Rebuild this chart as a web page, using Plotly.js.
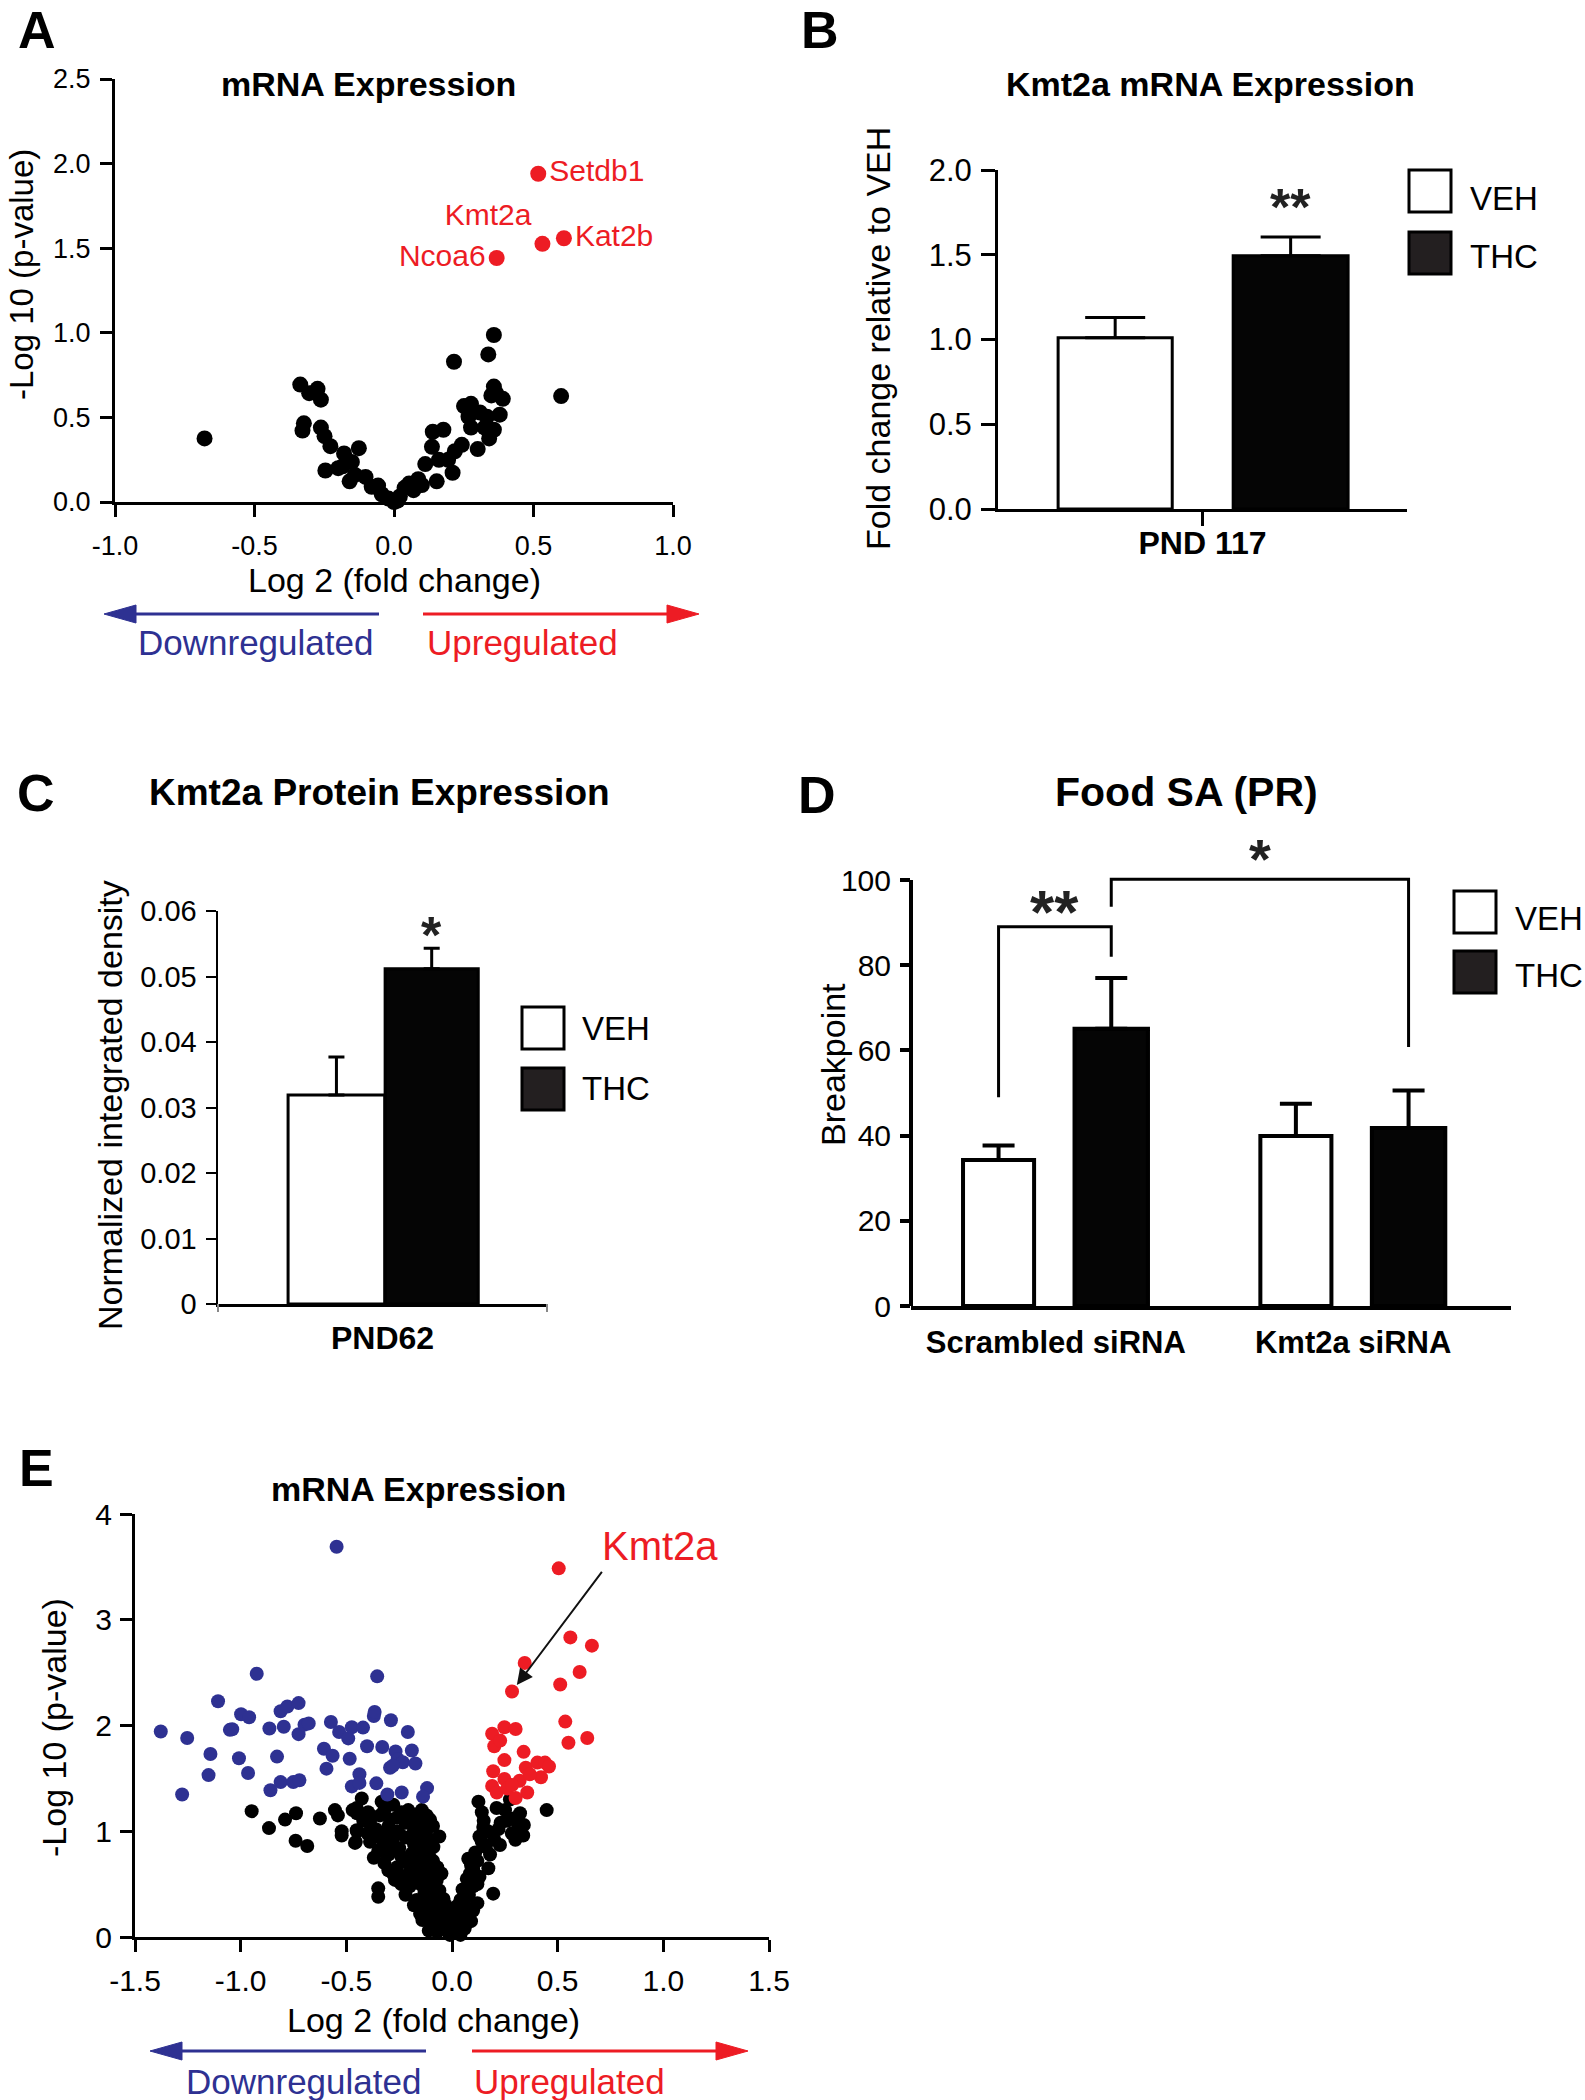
<!DOCTYPE html>
<html>
<head>
<meta charset="utf-8">
<script src="https://cdn.plot.ly/plotly-3.0.1.min.js"></script>
<style>
  body { margin: 0; background: #fff; }
  #fig { width: 1585px; height: 2100px; }
</style>
</head>
<body>
<div id="fig"></div>
<script>
// ---------- data ----------
// A: volcano plot (mRNA expression)
const aBlackX = [-0.679,-0.336,-0.274,-0.304,-0.262,-0.323,-0.328,-0.262,-0.249,-0.228,-0.246,-0.179,-0.184,-0.151,-0.126,-0.159,-0.102,-0.2,-0.14,-0.057,-0.044,-0.02,0.0,0.013,0.021,0.038,0.054,0.087,0.07,0.153,0.139,0.177,0.136,0.112,0.161,0.21,0.194,0.218,0.243,0.215,0.251,0.276,0.267,0.276,0.30,0.308,0.325,0.341,0.333,0.338,0.358,0.358,0.366,0.349,0.39,0.379,0.358,0.599,-0.08,0.1];
const aBlackY = [0.376,0.694,0.669,0.643,0.605,0.465,0.422,0.44,0.389,0.33,0.186,0.287,0.211,0.237,0.318,0.122,0.148,0.2,0.16,0.097,0.046,0.02,0.0,0.008,0.033,0.084,0.109,0.135,0.07,0.122,0.415,0.427,0.326,0.224,0.249,0.173,0.249,0.3,0.338,0.829,0.567,0.58,0.504,0.44,0.313,0.529,0.44,0.376,0.504,0.872,0.987,0.682,0.643,0.63,0.61,0.516,0.427,0.626,0.09,0.1];
const aGenes = ["Setdb1", "Kmt2a", "Kat2b", "Ncoa6"];
const aGeneX = [0.517, 0.532, 0.609, 0.368];
const aGeneY = [1.94, 1.526, 1.559, 1.442];
const aXTicks = [-1, -0.5, 0, 0.5, 1];
const aXLabels = ["-1.0", "-0.5", "0.0", "0.5", "1.0"];
const aYTicks = [0, 0.5, 1, 1.5, 2, 2.5];
const aYLabels = ["0.0", "0.5", "1.0", "1.5", "2.0", "2.5"];

// B: Kmt2a mRNA (fold change)
const bCats = ["PND 117"];
const bVeh = [1.01], bVehErr = [0.12];
const bThc = [1.494], bThcErr = [0.11];
const bYTicks = [0, 0.5, 1, 1.5, 2];
const bYLabels = ["0.0", "0.5", "1.0", "1.5", "2.0"];

// C: Kmt2a protein
const cCats = ["PND62"];
const cVeh = [0.0319], cVehErr = [0.0058];
const cThc = [0.0512], cThcErr = [0.0031];
const cYTicks = [0, 0.01, 0.02, 0.03, 0.04, 0.05, 0.06];
const cYLabels = ["0", "0.01", "0.02", "0.03", "0.04", "0.05", "0.06"];

// D: Food SA (PR) breakpoint
const dCats = ["Scrambled siRNA", "Kmt2a siRNA"];
const dVeh = [34.3, 39.9], dVehErr = [3.4, 7.6];
const dThc = [65.1, 41.8], dThcErr = [11.9, 8.8];
const dYTicks = [0, 20, 40, 60, 80, 100];

// E: volcano plot (mRNA expression)
const eBlueX = [-1.378,-1.253,-1.277,-1.143,-1.152,-1.107,-1.051,-1.040,-1.008,-0.998,-0.960,-0.965,-0.924,-0.864,-0.859,-0.828,-0.811,-0.811,-0.779,-0.796,-0.726,-0.726,-0.751,-0.722,-0.698,-0.678,-0.573,-0.606,-0.594,-0.565,-0.546,-0.534,-0.491,-0.474,-0.484,-0.474,-0.438,-0.438,-0.421,-0.402,-0.370,-0.366,-0.358,-0.354,-0.330,-0.306,-0.289,-0.293,-0.267,-0.257,-0.233,-0.238,-0.209,-0.190,-0.173,-0.118,-0.137,-0.280];
const eBlueY = [1.943,1.882,1.347,1.731,1.531,2.229,1.959,1.965,1.690,2.106,2.078,1.551,2.490,1.971,1.388,1.706,1.465,2.135,2.180,1.988,2.212,1.918,1.465,1.482,2.008,2.020,2.033,1.780,1.592,1.714,3.690,1.939,1.878,1.984,1.686,1.424,1.539,1.457,1.980,1.804,2.090,2.127,1.453,2.465,1.796,1.347,2.049,1.600,1.755,1.682,1.653,1.367,1.939,1.763,1.641,1.408,1.327,1.620];
const eRedX = [0.505,0.560,0.662,0.604,0.344,0.512,0.284,0.536,0.551,0.640,0.190,0.248,0.301,0.200,0.228,0.248,0.195,0.339,0.349,0.404,0.440,0.459,0.421,0.320,0.248,0.190,0.212,0.262,0.356,0.301,0.368,0.284];
const eRedY = [3.486,2.833,2.755,2.506,2.592,2.388,2.322,2.037,1.837,1.882,1.922,1.984,1.967,1.804,1.857,1.673,1.567,1.751,1.600,1.649,1.649,1.612,1.510,1.478,1.494,1.429,1.367,1.404,1.367,1.314,1.539,1.437];
const eKmt2aIdx = 6;
const eBlackX = [-0.948,-0.866,-0.79,-0.738,-0.74,-0.685,-0.625,-0.554,-0.54,-0.522,-0.522,-0.47,-0.459,-0.45,
  -0.427,-0.451,-0.45,-0.397,-0.333,-0.451,-0.455,-0.388,-0.388,-0.341,-0.293,-0.278,-0.349,-0.309,-0.25,-0.207,-0.175,-0.143,-0.104,-0.163,-0.12,-0.088,-0.301,-0.349,-0.349,-0.27,-0.30,-0.25,-0.23,-0.19,-0.183,-0.14,-0.12,-0.072,-0.20,-0.167,-0.151,-0.10,-0.088,-0.06,-0.033,-0.009,0.022,-0.10,-0.05,-0.01,
  -0.32,-0.26,-0.22,-0.18,-0.15,-0.28,-0.32,-0.26,-0.22,-0.17,-0.13,-0.22,-0.18,-0.12,-0.08,-0.06,-0.14,-0.11,-0.07,-0.04,-0.02,0.00,-0.10,-0.13,-0.10,-0.08,-0.05,-0.16,-0.36,-0.40,
  -0.42,-0.38,-0.35,-0.31,-0.27,-0.24,-0.21,-0.19,-0.17,-0.15,-0.13,-0.11,-0.09,-0.07,-0.05,-0.03,
  -0.30,-0.26,-0.22,-0.18,-0.14,-0.11,-0.09,-0.07,-0.16,-0.13,-0.10,-0.08,-0.06,-0.04,-0.03,-0.12,-0.09,-0.07,-0.05,-0.13,-0.10,-0.08,-0.06,-0.04,-0.02,-0.24,-0.20,-0.12,-0.09,-0.06,-0.24,-0.28,-0.33,-0.37,
  0.125,0.141,0.211,0.251,0.274,0.322,0.448,0.148,0.23,0.283,0.337,0.315,0.141,0.20,0.227,0.18,0.077,0.12,0.172,0.085,0.13,0.195,0.10,0.07,0.12,0.038,0.08,0.03,0.05,0.02,0.01,0.06,0.04,0.09,0.10,0.06,0.10,0.17,0.26,
  0.02,0.04,0.05,0.07,0.09,0.11,0.13,0.15,0.03,0.05,0.08,0.12,0.16,0.22,0.29,0.34,0.30];
const eBlackY = [1.19,1.03,1.11,1.17,0.91,0.86,1.12,1.20,1.15,1.0,0.96,1.20,0.89,1.0,
  1.31,1.22,1.17,1.18,1.28,1.01,0.90,1.09,0.90,1.15,1.11,1.25,0.81,0.98,0.98,1.20,1.15,1.20,1.11,1.05,1.02,0.85,0.63,0.46,0.38,0.54,0.78,0.84,0.73,0.79,0.63,0.70,0.57,0.54,0.48,0.35,0.22,0.38,0.19,0.28,0.16,0.10,0.29,0.14,0.10,0.02,
  1.20,1.13,1.08,1.00,0.93,0.92,0.70,0.66,0.58,0.52,0.45,0.40,0.30,0.30,0.45,0.38,0.16,0.06,0.05,0.22,0.05,0.04,0.92,0.82,0.70,0.64,0.60,1.10,1.02,0.98,
  1.10,1.02,0.95,0.88,0.82,0.76,0.70,0.64,0.58,0.50,0.42,0.35,0.27,0.20,0.14,0.08,
  1.05,1.00,0.94,0.88,0.86,0.78,0.72,0.66,0.74,0.64,0.56,0.50,0.44,0.36,0.30,0.52,0.42,0.34,0.26,0.25,0.20,0.12,0.08,0.12,0.18,1.18,1.12,1.15,1.05,0.95,0.50,0.60,0.85,0.75,
  1.28,1.18,1.22,1.20,1.30,1.17,1.20,1.04,1.08,0.98,0.96,1.05,0.90,0.92,0.87,0.78,0.74,0.72,0.65,0.60,0.57,0.41,0.48,0.38,0.32,0.29,0.22,0.19,0.13,0.10,0.04,0.08,0.02,0.15,0.25,0.30,0.64,1.00,1.10,
  0.25,0.35,0.45,0.55,0.68,0.80,0.95,1.10,0.06,0.18,0.40,0.50,0.85,1.02,1.12,1.06,0.92];
const eXTicks = [-1.5, -1, -0.5, 0, 0.5, 1, 1.5];
const eXLabels = ["-1.5", "-1.0", "-0.5", "0.0", "0.5", "1.0", "1.5"];
const eYTicks = [0, 1, 2, 3, 4];

// ---------- helpers ----------
const W = 1585, H = 2100;
const SANS = '"Liberation Sans", Arial, sans-serif';
const RED = "#ed1c24", BLUE = "#2e3192";
const px = (x) => x / W;
const py = (y) => 1 - y / H;
const dx = (a, b) => [a / W, b / W];
const dy = (top, bot) => [1 - bot / H, 1 - top / H];

function note(text, x, y, size, extra) {
  return Object.assign({
    xref: "paper", yref: "paper", x: px(x), y: py(y),
    text: text, showarrow: false, xanchor: "center", yanchor: "middle",
    font: { family: SANS, size: size, color: "black" },
  }, extra || {});
}
const colored = (text, x, y, size, color) =>
  note(text, x, y, size, { font: { family: SANS, size: size, color: color } });

const axisBase = {
  showline: true, linecolor: "black", linewidth: 3,
  ticks: "outside", ticklen: 12, tickwidth: 3, tickcolor: "black",
  zeroline: false, showgrid: false, fixedrange: true,
};

function arrowShapes(x0, x1, y, color) {
  // horizontal arrow, tip at x1
  const dir = x1 > x0 ? 1 : -1;
  const base = x1 - dir * 32;
  return [
    { type: "line", xref: "paper", yref: "paper", x0: px(x0), x1: px(base), y0: py(y), y1: py(y),
      line: { color: color, width: 3 } },
    { type: "path", xref: "paper", yref: "paper",
      path: `M ${px(x1)},${py(y)} L ${px(base)},${py(y - 9)} L ${px(base)},${py(y + 9)} Z`,
      fillcolor: color, line: { color: color, width: 1 } },
  ];
}

function legendBox(x0, y0, size, fill) {
  return { type: "rect", xref: "paper", yref: "paper",
    x0: px(x0), x1: px(x0 + size), y0: py(y0 + size), y1: py(y0),
    fillcolor: fill, line: { color: "black", width: 3 } };
}

function barTrace(cats, vals, errs, fill, off, wid, xa, ya, lw, capw) {
  return {
    type: "bar", x: cats, y: vals, xaxis: xa, yaxis: ya,
    offset: cats.map(() => off), width: cats.map(() => wid),
    marker: { color: fill, line: { color: "black", width: lw } },
    error_y: { type: "data", array: errs, arrayminus: errs.map(() => 0), symmetric: false,
      color: "black", thickness: lw, width: capw },
    hoverinfo: "skip",
  };
}

// ---------- traces ----------
const traces = [
  // A
  { type: "scatter", mode: "markers", x: aBlackX, y: aBlackY, xaxis: "x", yaxis: "y",
    marker: { color: "black", size: 16 }, cliponaxis: false },
  { type: "scatter", mode: "markers+text", x: aGeneX, y: aGeneY, text: aGenes, xaxis: "x", yaxis: "y",
    textposition: ["middle right", "top left", "middle right", "middle left"],
    textfont: { family: SANS, size: 30, color: RED },
    marker: { color: RED, size: 16 }, cliponaxis: false },
  // B
  barTrace(bCats, bVeh, bVehErr, "white", -0.353, 0.279, "x2", "y2", 3, 30),
  barTrace(bCats, bThc, bThcErr, "#050505", 0.075, 0.281, "x2", "y2", 3, 30),
  // C
  barTrace(cCats, cVeh, cVehErr, "white", -0.287, 0.294, "x3", "y3", 3, 8),
  barTrace(cCats, cThc, cThcErr, "#050505", 0.008, 0.283, "x3", "y3", 3, 8),
  // D
  barTrace(dCats, dVeh, dVehErr, "white", -0.312, 0.239, "x4", "y4", 4, 16),
  barTrace(dCats, dThc, dThcErr, "#050505", 0.063, 0.247, "x4", "y4", 4, 16),
  // E
  { type: "scatter", mode: "markers", x: eBlackX, y: eBlackY, xaxis: "x5", yaxis: "y5",
    marker: { color: "black", size: 14 }, cliponaxis: false },
  { type: "scatter", mode: "markers", x: eBlueX, y: eBlueY, xaxis: "x5", yaxis: "y5",
    marker: { color: BLUE, size: 14 }, cliponaxis: false },
  { type: "scatter", mode: "markers", x: eRedX, y: eRedY, xaxis: "x5", yaxis: "y5",
    marker: { color: RED, size: 14 }, cliponaxis: false },
];

// bracket positions in D (bar centres)
const dVehC = -0.312 + 0.239 / 2;
const dThcC = 0.063 + 0.247 / 2;

const shapes = [
  ...arrowShapes(379, 104, 614, BLUE),
  ...arrowShapes(423, 699, 614, RED),
  ...arrowShapes(426, 150, 2051, BLUE),
  ...arrowShapes(472, 748, 2051, RED),
  legendBox(1409, 170, 42, "white"), legendBox(1409, 232, 42, "#231f20"),
  legendBox(522, 1007, 42, "white"), legendBox(522, 1068, 42, "#231f20"),
  legendBox(1454, 891, 42, "white"), legendBox(1454, 951, 42, "#231f20"),
  // D y-axis line (axis range leaves room for the brackets)
  { type: "line", xref: "x4 domain", yref: "y4", x0: 0, x1: 0, y0: 0, y1: 100,
    line: { color: "black", width: 4 } },
  // D significance brackets
  { type: "path", xref: "x4", yref: "y4",
    path: `M ${dVehC},49 L ${dVehC},89 L ${dThcC},89 L ${dThcC},82`,
    line: { color: "black", width: 3 } },
  { type: "path", xref: "x4", yref: "y4",
    path: `M ${dThcC},93.7 L ${dThcC},100.2 L ${1 + dThcC},100.2 L ${1 + dThcC},60.8`,
    line: { color: "black", width: 3 } },
  // C x-axis end ticks
  { type: "line", xref: "x3 domain", yref: "paper", x0: 0, x1: 0, y0: py(1304), y1: py(1312),
    line: { color: "#888", width: 2 } },
  { type: "line", xref: "x3 domain", yref: "paper", x0: 1, x1: 1, y0: py(1304), y1: py(1312),
    line: { color: "#888", width: 2 } },
];

const annotations = [
  // panel letters
  note("<b>A</b>", 37, 30, 52), note("<b>B</b>", 820, 30, 52), note("<b>C</b>", 36, 793, 52),
  note("<b>D</b>", 817, 795, 52), note("<b>E</b>", 36, 1468, 52),
  // titles
  note("<b>mRNA Expression</b>", 368, 84, 34),
  note("<b>Kmt2a mRNA Expression</b>", 1210, 84, 34),
  note("<b>Kmt2a Protein Expression</b>", 379, 792, 37),
  note("<b>Food SA (PR)</b>", 1186, 792, 41),
  note("<b>mRNA Expression</b>", 418, 1489, 34),
  // axis titles
  note("-Log 10 (p-value)", 22, 275, 33, { textangle: -90 }),
  note("Log 2 (fold change)", 394, 580, 34),
  colored("Downregulated", 255, 643, 35, BLUE),
  colored("Upregulated", 522, 643, 35, RED),
  note("Fold change relative to VEH", 878, 339, 34, { textangle: -90 }),
  note("Normalized integrated density", 110, 1105, 34, { textangle: -90 }),
  note("Breakpoint", 833, 1065, 34, { textangle: -90 }),
  note("-Log 10 (p-value)", 54, 1728, 34, { textangle: -90 }),
  note("Log 2 (fold change)", 434, 2020, 34),
  colored("Downregulated", 303, 2081, 35, BLUE),
  colored("Upregulated", 569, 2081, 35, RED),
  // legends
  note("VEH", 1468, 198, 33, { xanchor: "left" }),
  note("THC", 1468, 256, 33, { xanchor: "left" }),
  note("VEH", 580, 1028, 33, { xanchor: "left" }),
  note("THC", 580, 1088, 33, { xanchor: "left" }),
  note("VEH", 1513, 918, 33, { xanchor: "left" }),
  note("THC", 1513, 975, 33, { xanchor: "left" }),
  // significance marks
  { xref: "x2", yref: "y2", x: bCats[0], xshift: (0.075 + 0.281 / 2) * 409, y: 1.78, text: "<b>**</b>",
    showarrow: false, font: { family: SANS, size: 52, color: "#222" } },
  { xref: "x3", yref: "y3", x: cCats[0], xshift: (0.008 + 0.283 / 2) * 329, y: 0.0563, text: "<b>*</b>",
    showarrow: false, font: { family: SANS, size: 52, color: "#222" } },
  { xref: "x4", yref: "y4", x: (dVehC + dThcC) / 2, y: 92.5, text: "<b>**</b>",
    showarrow: false, font: { family: SANS, size: 62, color: "#222" } },
  { xref: "x4", yref: "y4", x: (dThcC + 1 + dThcC) / 2, y: 105, text: "<b>*</b>",
    showarrow: false, font: { family: SANS, size: 56, color: "#222" } },
  // E Kmt2a callout
  { xref: "x5", yref: "y5", x: eRedX[eKmt2aIdx], y: eRedY[eKmt2aIdx], ax: 91, ay: -121,
    text: "", showarrow: true, arrowhead: 2, arrowsize: 1.6, arrowwidth: 2, arrowcolor: "#111", standoff: 8 },
  colored("Kmt2a", 660, 1546, 40, RED),
];

const layout = {
  width: W, height: H, margin: { l: 0, r: 0, t: 0, b: 0 },
  paper_bgcolor: "white", plot_bgcolor: "rgba(0,0,0,0)",
  showlegend: false, barmode: "overlay",
  font: { family: SANS, color: "black" },
  // A
  xaxis: { ...axisBase, domain: dx(115, 673), range: [-1, 1], anchor: "y",
    tickvals: aXTicks, ticktext: aXLabels, tickfont: { family: SANS, size: 27 }, ticklabelstandoff: 6 },
  yaxis: { ...axisBase, domain: dy(79, 502), range: [0, 2.5], anchor: "x",
    tickvals: aYTicks, ticktext: aYLabels, tickfont: { family: SANS, size: 27 }, ticklabelstandoff: 4 },
  // B
  xaxis2: { ...axisBase, domain: dx(998, 1407), range: [-0.5, 0.5], anchor: "y2", type: "category",
    ticklen: 14, tickfont: { family: SANS, size: 32, weight: "bold" }, ticklabelstandoff: -10 },
  yaxis2: { ...axisBase, domain: dy(170, 509), range: [0, 2], anchor: "x2",
    tickvals: bYTicks, ticktext: bYLabels, ticklen: 14, tickfont: { family: SANS, size: 31 }, ticklabelstandoff: 3 },
  // C
  xaxis3: { ...axisBase, domain: dx(218, 547), range: [-0.5, 0.5], anchor: "y3", type: "category",
    ticks: "", tickfont: { family: SANS, size: 32, weight: "bold" }, ticklabelstandoff: 4 },
  yaxis3: { ...axisBase, domain: dy(911, 1304), range: [0, 0.06], anchor: "x3",
    tickvals: cYTicks, ticktext: cYLabels, ticklen: 10, tickwidth: 2, linewidth: 2.5,
    tickfont: { family: SANS, size: 29 }, ticklabelstandoff: 3 },
  // D
  xaxis4: { ...axisBase, domain: dx(911, 1511), range: [-0.487, 1.531], anchor: "y4", type: "category",
    linewidth: 4, ticks: "", tickfont: { family: SANS, size: 31, weight: "bold" }, ticklabelstandoff: 6 },
  yaxis4: { ...axisBase, domain: dy(837.4, 1306), range: [0, 110], anchor: "x4", showline: false,
    tickvals: dYTicks, ticklen: 10, tickwidth: 4, tickfont: { family: SANS, size: 30 }, ticklabelstandoff: 3 },
  // E
  xaxis5: { ...axisBase, domain: dx(135, 769), range: [-1.5, 1.5], anchor: "y5",
    tickvals: eXTicks, ticktext: eXLabels, tickfont: { family: SANS, size: 30 }, ticklabelstandoff: 3 },
  yaxis5: { ...axisBase, domain: dy(1514, 1937), range: [0, 4], anchor: "x5",
    tickvals: eYTicks, tickfont: { family: SANS, size: 30 }, ticklabelstandoff: 2 },
  shapes: shapes,
  annotations: annotations,
};

Plotly.newPlot("fig", traces, layout, { staticPlot: true, displayModeBar: false });
</script>
</body>
</html>
